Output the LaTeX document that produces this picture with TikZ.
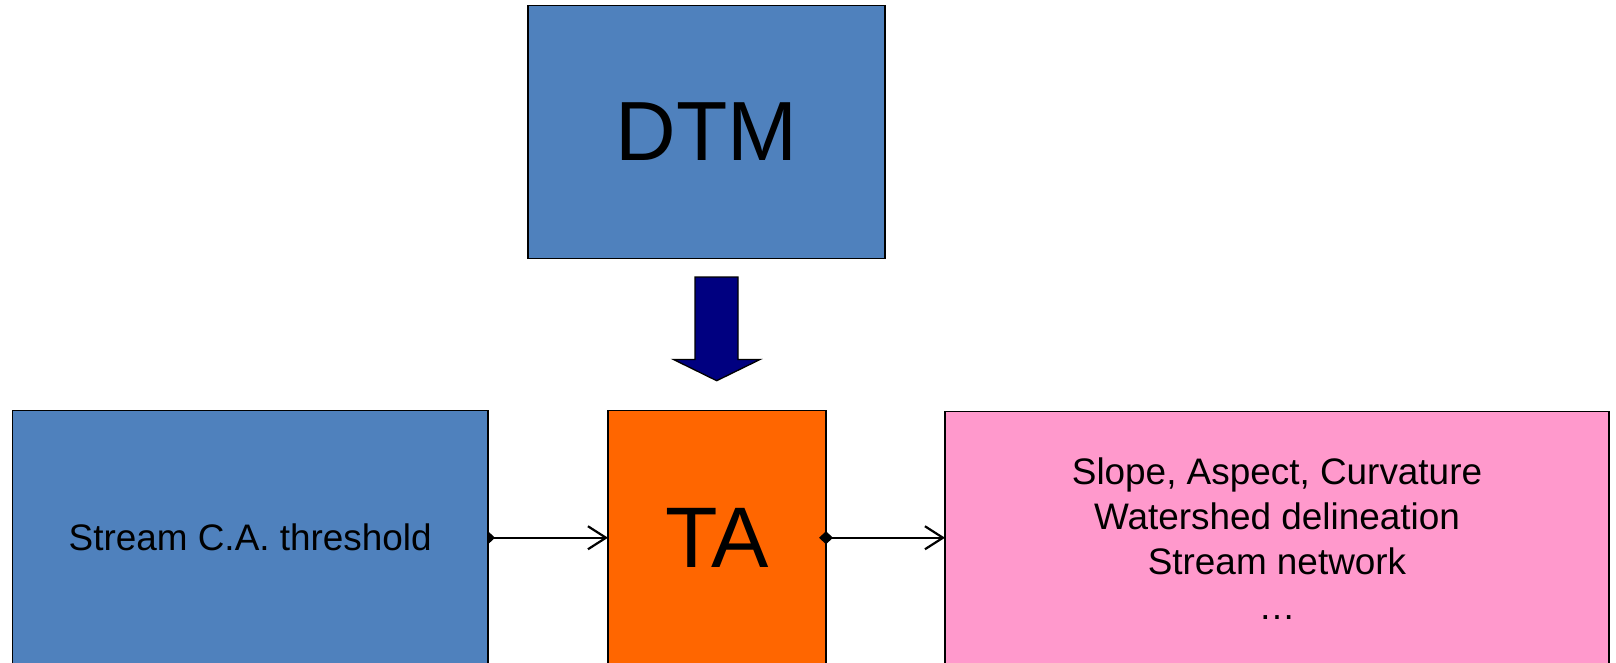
\documentclass[tikz,border=0pt]{standalone}
\usepackage{fontspec}
\setmainfont{Liberation Sans}
\usetikzlibrary{arrows.meta,backgrounds}
\definecolor{boxblue}{HTML}{4F81BD}
\definecolor{taorange}{HTML}{FF6600}
\definecolor{outpink}{HTML}{FF99CC}
\definecolor{arrownavy}{HTML}{000080}
\tikzset{
  box/.style={draw=black, line width=1.5pt, rectangle, inner sep=0pt, outer sep=0pt, text=black},
  bigtext/.style={font=\fontsize{84}{100}\selectfont},
  smalltext/.style={font=\fontsize{36.9}{44.8}\selectfont, align=center},
  conn/.style={line width=2.2pt, {Diamond[length=14pt,width=13pt]}-{Straight Barb[length=18pt,width=23pt,line width=2.2pt]}, shorten <=-7pt},
  blockarrow/.style={draw=black, line width=1.3pt, fill=arrownavy, line join=miter}
}
\begin{document}
\begin{tikzpicture}[x=1pt,y=-1pt]
\useasboundingbox (0,0) rectangle (1616,663);
% boxes
\node[box, fill=boxblue, minimum width=357pt, minimum height=253pt, bigtext] (dtm) at (706.5,132.1) {DTM};
\node[box, fill=boxblue, minimum width=475.7pt, minimum height=254.5pt, smalltext] (left) at (250.2,537.75) {Stream C.A. threshold};
\node[box, fill=taorange, minimum width=218pt, minimum height=254.5pt, font=\fontsize{86}{100}\selectfont] (ta) at (717,537.75) {TA};
\node[box, fill=outpink, minimum width=664pt, minimum height=254.5pt, smalltext] (out) at (1277,538.5) {Slope, Aspect, Curvature\\Watershed delineation\\Stream network\\…};
% connectors
\begin{scope}[on background layer]
\draw[conn] (left.east) -- (ta.west);
\end{scope}
\draw[conn] (ta.east) -- (out.west |- ta.east);
% block arrow from DTM to TA
\draw[blockarrow] (695,277) -- (738,277) -- (738,359.5) -- (760,359.5) -- (716.7,380.7) -- (673.5,359.5) -- (695,359.5) -- cycle;
\end{tikzpicture}
\end{document}
